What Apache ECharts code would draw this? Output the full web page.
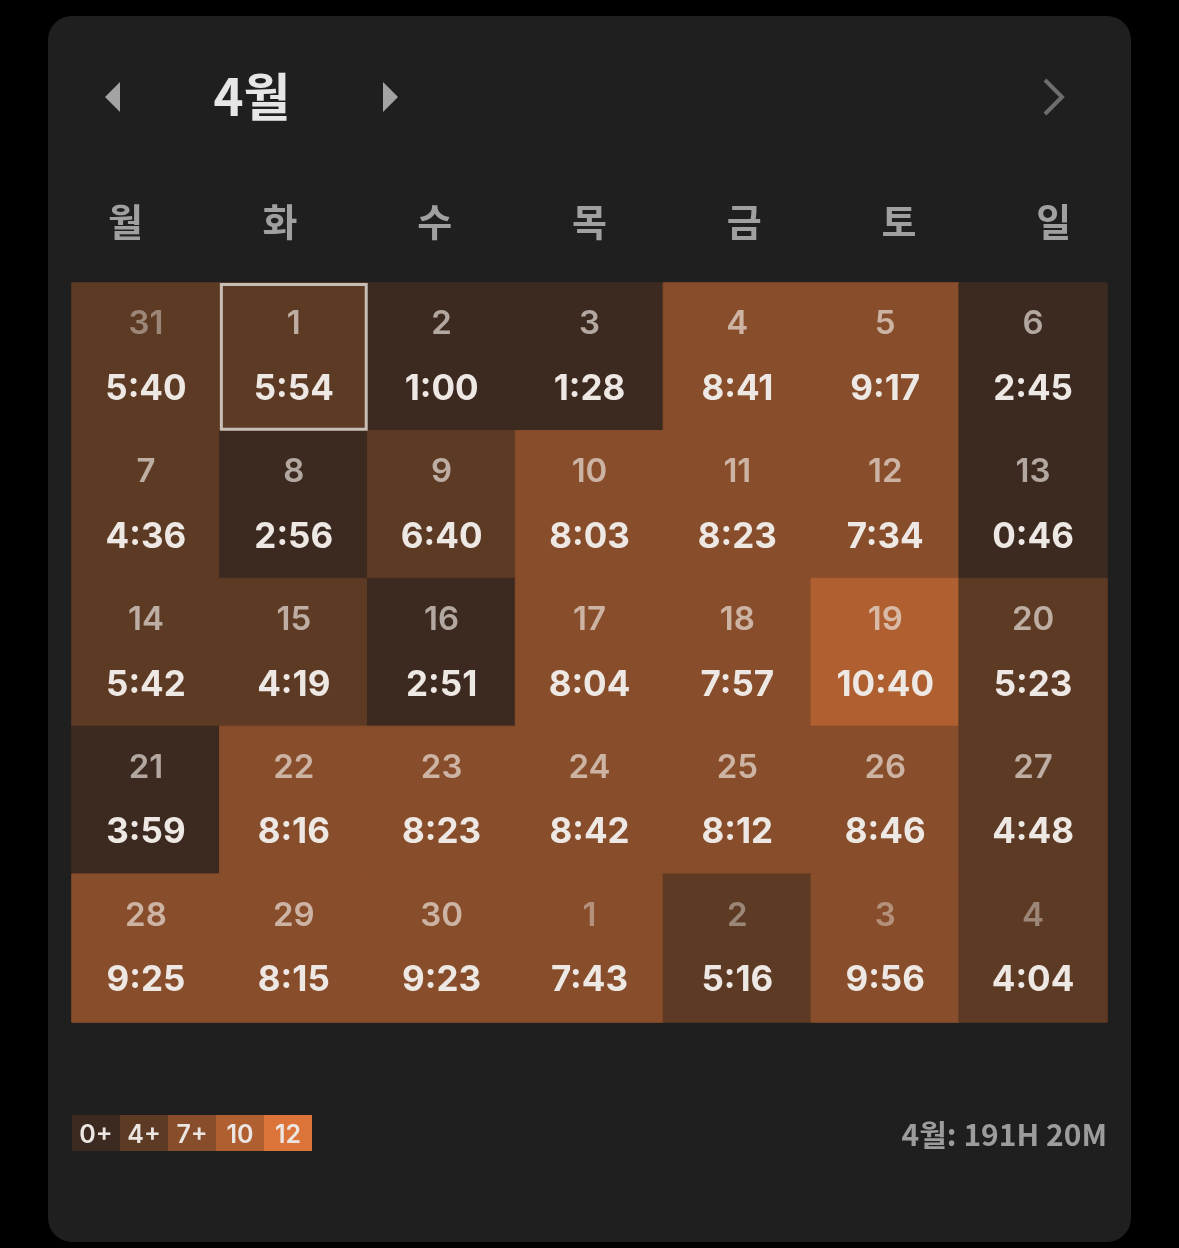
<!DOCTYPE html>
<html><head><meta charset="utf-8">
<script src="https://cdn.jsdelivr.net/npm/echarts@6/dist/echarts.min.js"></script>
<style>html,body{margin:0;padding:0;background:#000;}#c{width:1179px;height:1248px;}</style>
</head><body><div id="c"></div>
<script>
const monthTitle = '4월';
const weekdays = ['월','화','수','목','금','토','일'];
const dayNumbers = [
  [31,1,2,3,4,5,6],
  [7,8,9,10,11,12,13],
  [14,15,16,17,18,19,20],
  [21,22,23,24,25,26,27],
  [28,29,30,1,2,3,4]
];
const inMonth = [
  [0,1,1,1,1,1,1],
  [1,1,1,1,1,1,1],
  [1,1,1,1,1,1,1],
  [1,1,1,1,1,1,1],
  [1,1,1,0,0,0,0]
];
const times = [
  ['5:40','5:54','1:00','1:28','8:41','9:17','2:45'],
  ['4:36','2:56','6:40','8:03','8:23','7:34','0:46'],
  ['5:42','4:19','2:51','8:04','7:57','10:40','5:23'],
  ['3:59','8:16','8:23','8:42','8:12','8:46','4:48'],
  ['9:25','8:15','9:23','7:43','5:16','9:56','4:04']
];
const selectedCell = [1, 0]; // [weekday index, week index]
const legendLabels = ['0+','4+','7+','10','12'];
const legendThresholds = [0,4,7,10,12];
const legendColors = ['#3c2a20','#5c3a24','#884d2b','#b06030','#dc743a'];
const totalText = '4월: 191H 20M';

const FONT = 'Inter, "Noto Sans CJK KR", sans-serif';
const KFONT = '"Noto Sans CJK KR", sans-serif';

const toHours = s => { const [h,m] = s.split(':').map(Number); return h + m/60; };
const colorFor = v => { let c = legendColors[0]; legendThresholds.forEach((t,i)=>{ if (v >= t) c = legendColors[i]; }); return c; };
const heatData = [];
for (let w = 0; w < times.length; w++) {
  for (let d = 0; d < 7; d++) {
    const v = toHours(times[w][d]);
    const col = colorFor(v);
    heatData.push({
      value: [d, w, v],
      itemStyle: {color: col, borderColor: col, borderWidth: 1},
      day: dayNumbers[w][d], time: times[w][d], inMonth: inMonth[w][d]
    });
  }
}

const graphics = [
  { type:'rect', z:-10, shape:{x:48,y:16,width:1083,height:1226,r:24}, style:{fill:'#1f1f1f'} },
  { type:'polygon', shape:{points:[[105,97],[120,82],[120,112]]}, style:{fill:'#a3a3a3'} },
  { type:'polygon', shape:{points:[[383,82],[398,97],[383,112]]}, style:{fill:'#a3a3a3'} },
  { type:'polyline', shape:{points:[[1045,80],[1062,97],[1045,114]]}, style:{stroke:'#6e6e6e',lineWidth:4,fill:null} },
  { type:'text', x:252, y:97, style:{text:monthTitle, fill:'#e6e6e6', font:'bold 51px '+KFONT, align:'center', verticalAlign:'middle'} },
  { type:'text', x:1107, y:1135, style:{text:totalText, fill:'#9c9c9c', font:'bold 30px '+KFONT, align:'right', verticalAlign:'middle'} }
];
legendLabels.forEach((lab, i) => {
  graphics.push({ type:'rect', shape:{x:72+i*48,y:1115,width:48,height:36}, style:{fill:legendColors[i]} });
  graphics.push({ type:'text', x:72+i*48+24, y:1135, style:{text:lab, fill:'#ece6e2', font:'600 25px '+FONT, align:'center', verticalAlign:'middle'} });
});

const chart = echarts.init(document.getElementById('c'));
chart.setOption({
  backgroundColor:'#000',
  animation:false,
  grid:[
    {left:72, top:283, width:1035, height:739},
    {left:48, top:222, width:1083, height:1}
  ],
  xAxis:[
    {type:'category', gridIndex:0, data:weekdays, show:false},
    {type:'category', gridIndex:1, data:weekdays, position:'top',
     axisLine:{show:false}, axisTick:{show:false}, splitLine:{show:false},
     axisLabel:{margin:0, verticalAlign:'middle', color:'#a0a0a0', fontSize:38, fontWeight:'bold', fontFamily:KFONT}}
  ],
  yAxis:[
    {type:'category', gridIndex:0, data:dayNumbers.map((r,i)=>'w'+i), inverse:true, show:false},
    {type:'value', gridIndex:1, show:false}
  ],
  series:[
    {type:'heatmap', xAxisIndex:0, yAxisIndex:0, data:heatData,
     emphasis:{disabled:true},
     label:{show:true,
       formatter: p => '{' + (p.data.inMonth ? 'd' : 'o') + '|' + p.data.day + '}\n{t|' + p.data.time + '}',
       rich:{
         d:{fontSize:33, fontWeight:600, fontFamily:FONT, color:'rgba(236,228,222,0.68)', lineHeight:65, align:'center'},
         o:{fontSize:33, fontWeight:600, fontFamily:FONT, color:'rgba(236,228,222,0.45)', lineHeight:65, align:'center'},
         t:{fontSize:35, fontWeight:'bold', fontFamily:FONT, color:'#eee8e4', lineHeight:65, align:'center'}
       }}
    },
    {type:'custom', xAxisIndex:0, yAxisIndex:0, data:[selectedCell], z:5,
     renderItem:(params, api) => {
       const c = api.coord([api.value(0), api.value(1)]);
       const s = api.size([1,1]);
       return {type:'rect', shape:{x:c[0]-s[0]/2+1.5, y:c[1]-s[1]/2+1.5, width:s[0]-3, height:s[1]-3},
         style:{fill:null, stroke:'#c9beb6', lineWidth:3}};
     }}
  ],
  graphic: graphics
});
</script></body></html>
